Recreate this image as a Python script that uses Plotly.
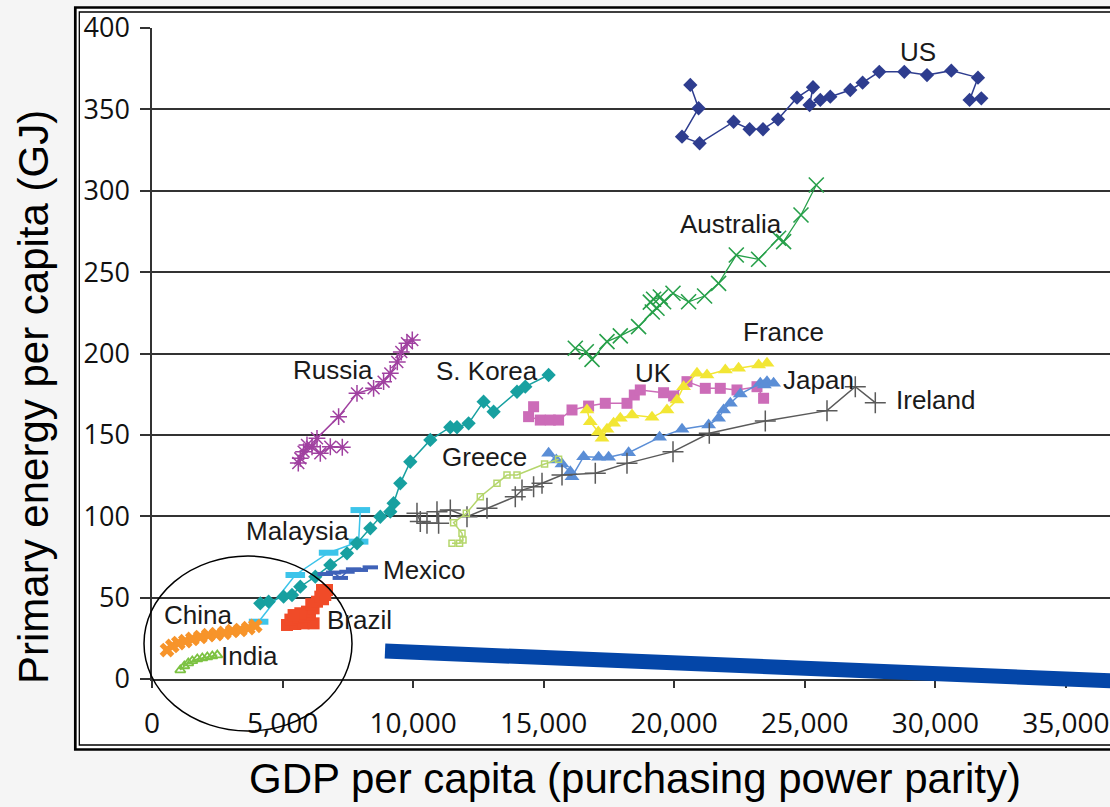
import plotly.graph_objects as go

# ---------------- data (GDP per capita PPP, primary energy per capita GJ) ----------------
us_x = [20617, 20934, 20299, 20973, 22275, 22888, 23401, 23976, 24703, 25316, 25186, 25595,
        25978, 26744, 27216, 27855, 28813, 29682, 30613, 31635, 31314, 31762]
us_y = [365.0, 350.7, 333.2, 329.2, 342.4, 337.8, 337.8, 343.9, 357.2, 363.6, 352.7, 355.8,
        357.8, 361.9, 366.4, 373.1, 373.1, 371.1, 373.8, 369.5, 355.8, 356.8]

aus_x = [16212, 16633, 16852, 17426, 17936, 18636, 19161, 19341, 19085, 19211, 19468, 19594,
         19954, 20551, 21164, 21700, 22378, 23232, 23998, 24190, 24856, 25442]
aus_y = [203.2, 201.1, 196.4, 207.3, 210.8, 216.5, 225.5, 227.8, 231.6, 233.3, 234.7, 231.8,
         237.0, 231.8, 235.3, 243.1, 260.5, 257.9, 270.8, 268.7, 285.1, 303.5]

rus_x = [9969, 9766, 9548, 9395, 9127, 8870, 8487, 7851, 7147, 6319, 6128, 5806, 5680, 5603,
         5936, 6446, 6829, 7288]
rus_y = [208.3, 206.3, 200.9, 194.8, 187.8, 182.7, 178.6, 175.5, 161.2, 147.9, 142.7, 139.7,
         135.6, 132.7, 143.8, 138.7, 142.7, 142.4]

kor_x = [4148, 4466, 5040, 5362, 5680, 6254, 6829, 7468, 7851, 8361, 8744, 9127, 9253, 9509,
         9893, 10659, 11424, 11681, 12126, 12700, 13083, 13980, 14297, 15190]
kor_y = [46.5, 47.5, 50.6, 51.6, 56.7, 62.9, 70.0, 77.2, 83.4, 92.6, 99.7, 102.8, 108.0, 120.2,
         133.5, 146.9, 154.7, 154.7, 157.1, 170.4, 164.2, 176.5, 179.6, 186.8]

gre_x = [11490, 11781, 11911, 11873, 11551, 12037, 12574, 13213, 13596, 13979, 15036, 15572]
gre_y = [83.4, 83.4, 85.4, 89.5, 96.0, 101.8, 112.0, 120.2, 125.3, 125.3, 132.1, 135.0]

ire_x = [10149, 10276, 10532, 10977, 10915, 11425, 12064, 12830, 13914, 14171, 14615, 14937,
         15703, 16978, 18192, 19954, 21344, 23489, 25852, 26936, 27702]
ire_y = [101.8, 96.7, 95.7, 95.7, 102.8, 103.8, 99.7, 104.9, 112.0, 116.1, 118.2, 120.3,
         125.3, 126.4, 132.5, 139.7, 151.0, 158.5, 164.9, 179.6, 169.8]

jpn_x = [15190, 15485, 15703, 16021, 16086, 16530, 17105, 17488, 18253, 19441, 20299, 21318,
         21700, 21892, 22149, 22531, 23297, 23554, 23807, 23451]
jpn_y = [138.7, 134.6, 132.1, 127.4, 124.3, 136.6, 136.2, 136.2, 139.0, 148.5, 153.4, 156.1,
         160.2, 165.3, 169.4, 175.1, 181.7, 182.7, 181.7, 180.6]

uk_x = [14615, 14423, 14872, 15255, 15572, 16086, 16722, 17361, 18192, 18472, 18702, 19594,
        19977, 20490, 21191, 21765, 22405, 23171, 23424]
uk_y = [167.3, 161.2, 159.1, 159.1, 159.1, 165.3, 167.7, 169.4, 169.4, 174.5, 177.6, 175.9,
        173.9, 182.7, 178.6, 178.6, 177.6, 179.6, 172.5]

fra_x = [16660, 16786, 17093, 17235, 17426, 17679, 17936, 18384, 19150, 19724, 20107, 20360,
         20873, 21256, 21957, 22466, 23232, 23554]
fra_y = [165.3, 158.1, 151.8, 147.9, 153.4, 157.1, 160.2, 162.2, 160.8, 165.3, 171.4, 179.6,
         187.8, 186.8, 189.9, 190.9, 192.9, 194.0]

mys_x = [4083, 5488, 6764, 7913, 7978]
mys_y = [35.2, 63.9, 77.6, 84.4, 103.8]

mex_x = [6637, 6955, 7212, 7468, 7721, 7978, 8361]
mex_y = [64.5, 65.4, 62.1, 65.9, 67.4, 67.0, 68.6]

bra_x = [5170, 5488, 5806, 6189, 5300, 5600, 5850, 6050, 5936, 5680, 5423, 6189, 6100, 6319,
         6446, 6550, 6637, 6511, 6702]
bra_y = [33.2, 33.8, 34.2, 34.2, 36.5, 37.5, 38.5, 39.5, 41.4, 40.4, 39.3, 43.4, 46.0, 47.5,
         50.6, 49.0, 51.6, 54.7, 54.7]

chn_x = [574, 777, 1007, 1275, 1543, 1850, 2156, 2462, 2769, 3075, 3382, 3688, 3956]
chn_y = [17.8, 20.3, 22.1, 23.3, 24.6, 25.8, 27.0, 27.6, 28.3, 29.5, 30.1, 31.3, 32.6]

ind_x = [1084, 1237, 1390, 1543, 1735, 1927, 2118, 2310, 2501]
ind_y = [5.5, 8.0, 9.8, 11.1, 12.3, 12.9, 13.5, 14.1, 14.7]

# country labels (text, x value, y value)
label_text = ["US", "Australia", "France", "Japan", "Ireland", "UK", "Russia", "S. Korea",
              "Greece", "Malaysia", "Mexico", "China", "Brazil", "India"]
label_x = [29346, 22186, 24178, 25519, 30038, 19200, 6925, 12842, 12727, 5565, 10429, 1754, 7940, 3727]
label_y = [385.3, 279.6, 213.2, 183.7, 171.4, 188.0, 189.9, 189.2, 136.4, 90.9, 67.0, 39.3, 36.3, 14.1]

x_ticks = [0, 5000, 10000, 15000, 20000, 25000, 30000, 35000]
y_ticks = [0, 50, 100, 150, 200, 250, 300, 350, 400]
grid_vals = [50, 100, 150, 200, 250, 300, 350]

# ---------------- layout geometry ----------------
W, H = 1110, 807
ML, MR, MT, MB = 152, 0, 28, 128
PW, PH = W - ML - MR, H - MT - MB
X_PER_PX = 1 / 0.02611
XMAX = PW * X_PER_PX


def pxx(p):
    return (p - ML) / PW


def pxy(p):
    return (H - MB - p) / PH


fig = go.Figure()


def add(x, y, color, symbol, size, lw=1.5, mlw=0, mcolor=None):
    fig.add_trace(go.Scatter(
        x=x, y=y, mode="lines+markers",
        line=dict(color=color, width=lw),
        marker=dict(symbol=symbol, size=size, color=mcolor or color,
                    line=dict(width=mlw, color=mcolor or color)),
        showlegend=False, hoverinfo="x+y"))


add(us_x, us_y, "#2E3D8F", "diamond", 11)
add(aus_x, aus_y, "#27A04A", "x-thin", 15, lw=1.3, mlw=1.6)
add(uk_x, uk_y, "#CC6CB8", "square", 11)
add(fra_x, fra_y, "#F2E634", "triangle-up", 13)
add(jpn_x, jpn_y, "#5B8ED6", "triangle-up", 13)
add(ire_x, ire_y, "#5A5A5A", "cross-thin", 15, lw=1.5, mlw=1.5)
add(gre_x, gre_y, "#B5D66C", "square-open", 6, lw=1.5, mlw=1.5)
add(rus_x, rus_y, "#A040A0", "asterisk", 14, lw=1.5, mlw=1.5)
add(mys_x, mys_y, "#3CC4EA", "line-ew", 14, lw=1.5, mlw=6)
add(kor_x, kor_y, "#17A0A0", "diamond", 11)
add(mex_x, mex_y, "#3F62B8", "line-ew", 11, lw=1.5, mlw=4)
add(bra_x, bra_y, "#F04B28", "square", 12)
add(chn_x, chn_y, "#F7942A", "x", 13)
add(ind_x, ind_y, "#7CC242", "triangle-up-open", 9, lw=1.5, mlw=1.8)

annotations = []
for t, x, y in zip(label_text, label_x, label_y):
    annotations.append(dict(x=x, y=y, xref="x", yref="y", text=t, showarrow=False,
                            font=dict(family="Liberation Sans, Arial", size=26, color="#1a1a1a"),
                            xanchor="center", yanchor="middle"))

annotations.append(dict(x=pxx(635), y=pxy(778), xref="paper", yref="paper",
                        text="GDP per capita (purchasing power parity)", showarrow=False,
                        font=dict(family="Liberation Sans, Arial", size=42, color="#000"),
                        xanchor="center", yanchor="middle"))
annotations.append(dict(x=pxx(33), y=pxy(397), xref="paper", yref="paper",
                        text="Primary energy per capita (GJ)", showarrow=False, textangle=-90,
                        font=dict(family="Liberation Sans, Arial", size=42, color="#000"),
                        xanchor="center", yanchor="middle"))

shapes = [
    # white chart frame area
    dict(type="rect", xref="paper", yref="paper", x0=pxx(75), x1=pxx(1140), y0=pxy(7.5), y1=pxy(749.5),
         fillcolor="white", line=dict(width=0), layer="below"),
    # double border
    dict(type="rect", xref="paper", yref="paper", x0=pxx(75.3), x1=pxx(1140), y0=pxy(7.5), y1=pxy(749.5),
         line=dict(color="#000", width=2.7), layer="above"),
    dict(type="rect", xref="paper", yref="paper", x0=pxx(79.3), x1=pxx(1140), y0=pxy(12), y1=pxy(745),
         line=dict(color="#000", width=1.3), layer="above"),
    # ellipse
    dict(type="circle", xref="paper", yref="paper", x0=pxx(144), x1=pxx(352), y0=pxy(731), y1=pxy(556),
         line=dict(color="#000", width=1.5), layer="above"),
    # thick blue pointer line
    dict(type="line", xref="paper", yref="paper", x0=pxx(385), y0=pxy(651), x1=pxx(1140), y1=pxy(682),
         line=dict(color="#0446A8", width=15), layer="above"),
]

fig.update_layout(
    width=W, height=H, autosize=False,
    margin=dict(l=ML, r=MR, t=MT, b=MB, pad=0),
    paper_bgcolor="#F5F5F5", plot_bgcolor="white",
    annotations=annotations, shapes=shapes,
    xaxis=dict(range=[0, XMAX], tickvals=x_ticks, tickformat=",", showgrid=False, zeroline=False,
               showline=True, linecolor="#333", linewidth=1.5,
               ticks="outside", ticklen=7, tickcolor="#333", tickwidth=1.5,
               ticklabelstandoff=12,
               tickfont=dict(family="Open Sans", size=28, color="#111")),
    yaxis=dict(range=[0, 400], tickvals=y_ticks, showgrid=False, zeroline=False,
               showline=True, linecolor="#333", linewidth=1.5,
               ticks="outside", ticklen=10, tickcolor="#333", tickwidth=1.5,
               ticklabelstandoff=5,
               tickfont=dict(family="Open Sans", size=27, color="#111"),
               minor=dict(tickmode="array", tickvals=grid_vals, showgrid=True,
                          gridcolor="#333333", gridwidth=1.5, ticks="")),
)

fig.write_html("out.html", config={"displayModeBar": False},
               post_script="document.body.style.margin='0';document.body.style.overflow='hidden';")
